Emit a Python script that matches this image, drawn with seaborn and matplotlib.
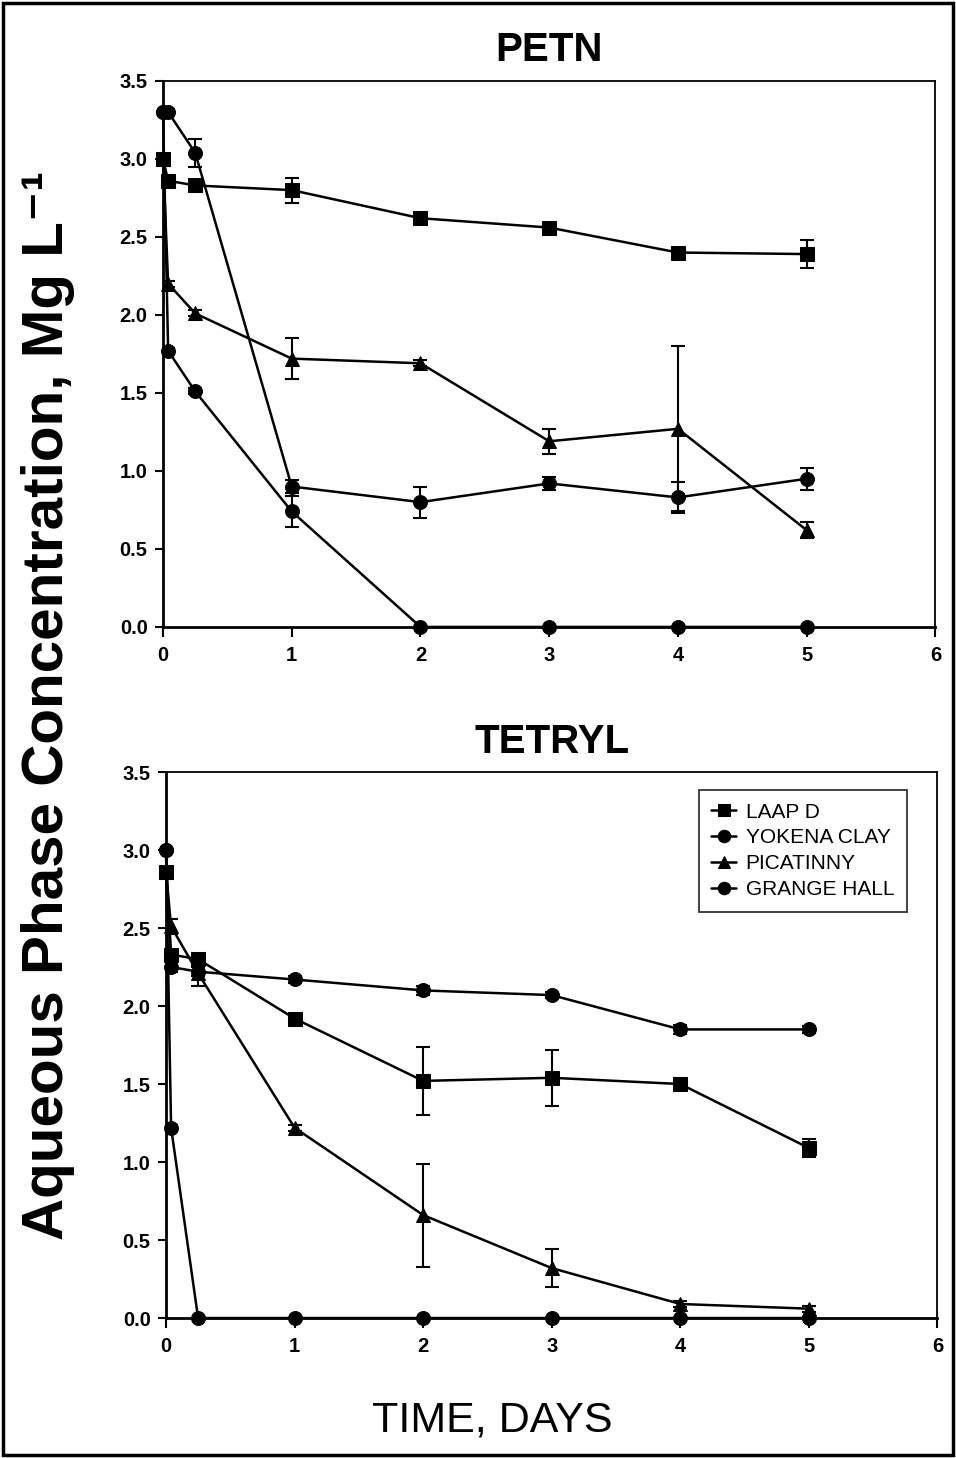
import numpy as np
import pandas as pd
import matplotlib
matplotlib.use("Agg")
import matplotlib.pyplot as plt
import seaborn as sns
from matplotlib.patches import Rectangle
from matplotlib.legend_handler import HandlerLine2D

# Probenahmezeiten in Tagen (0 h, 1 h, 6 h, 1-5 d)
days = [0, 0.04, 0.25, 1, 2, 3, 4, 5]
soils = ["LAAP D", "YOKENA CLAY", "PICATINNY", "GRANGE HALL"]
marker_map = {"LAAP D": "s", "YOKENA CLAY": "o", "PICATINNY": "^", "GRANGE HALL": "o"}

# PETN
petn_laap = [3.00, 2.86, 2.83, 2.80, 2.62, 2.56, 2.40, 2.39]
petn_laap_err = [0, 0.02, 0.02, 0.08, 0.02, 0.02, 0.02, 0.09]
petn_yokena = [3.30, 3.30, 3.04, 0.90, 0.80, 0.92, 0.83, 0.95]
petn_yokena_err = [0, 0.02, 0.09, 0.04, 0.10, 0.04, 0.10, 0.07]
petn_pica = [3.00, 2.20, 2.01, 1.72, 1.69, 1.19, 1.27, 0.62]
petn_pica_err = [0, 0.02, 0.02, 0.13, 0.02, 0.08, 0.53, 0.05]
petn_grange = [3.30, 1.77, 1.51, 0.74, 0.0, 0.0, 0.0, 0.0]
petn_grange_err = [0, 0.02, 0.02, 0.10, 0, 0, 0, 0]

# TETRYL
tet_laap = [2.86, 2.33, 2.30, 1.92, 1.52, 1.54, 1.50, 1.09]
tet_laap_err = [0, 0.03, 0.03, 0.03, 0.22, 0.18, 0.03, 0.06]
tet_yokena = [3.00, 2.25, 2.22, 2.17, 2.10, 2.07, 1.85, 1.85]
tet_yokena_err = [0, 0.03, 0.03, 0.02, 0.03, 0.02, 0.03, 0.02]
tet_pica = [2.86, 2.51, 2.21, 1.22, 0.66, 0.32, 0.09, 0.06]
tet_pica_err = [0, 0.05, 0.08, 0.02, 0.33, 0.12, 0.02, 0.02]
tet_grange = [3.00, 1.22, 0.0, 0.0, 0.0, 0.0, 0.0, 0.0]
tet_grange_err = [0, 0.02, 0, 0, 0, 0, 0, 0]

x_ticks = [0, 1, 2, 3, 4, 5, 6]
y_ticks = [0.0, 0.5, 1.0, 1.5, 2.0, 2.5, 3.0, 3.5]

sns.set_style("ticks", {"text.color": "black", "axes.labelcolor": "black",
                        "xtick.color": "black", "ytick.color": "black",
                        "axes.edgecolor": "black"})
plt.rcParams["font.family"] = ["Liberation Sans", "DejaVu Sans"]


class MarkerLeft(HandlerLine2D):
    # Marker links am Linienstueck, wie im Original
    def get_xdata(self, legend, xdescent, ydescent, width, height, fontsize):
        xdata = np.array([-xdescent, -xdescent + width])
        return xdata, np.array([-xdescent + 2])


def long_frame(values):
    rows = []
    for soil, vals in zip(soils, values):
        for t, v in zip(days, vals):
            rows.append({"days": t, "conc": v, "soil": soil})
    return pd.DataFrame(rows)


def draw_panel(ax, values, errors, title, legend):
    df = long_frame(values)
    sns.lineplot(data=df, x="days", y="conc", hue="soil", style="soil",
                 palette=["black"] * 4, markers=marker_map, dashes=False,
                 sort=False, markersize=10, markeredgecolor="black",
                 linewidth=1.8, ax=ax, legend=legend, clip_on=False, zorder=3)
    for vals, errs in zip(values, errors):
        ax.errorbar(days, vals, yerr=errs, fmt="none", ecolor="black",
                    elinewidth=1.5, capsize=5, capthick=1.5, zorder=3)
    ax.set_xlim(0, 6)
    ax.set_ylim(0, 3.5)
    ax.set_xticks(x_ticks)
    ax.set_xticklabels([str(v) for v in x_ticks], fontsize=14.5, fontweight="bold")
    ax.set_yticks(y_ticks)
    ax.set_yticklabels([f"{v:.1f}" for v in y_ticks], fontsize=14.5, fontweight="bold")
    ax.set_xlabel("")
    ax.set_ylabel("")
    ax.set_title(title, fontsize=29, fontweight="bold", pad=14)
    ax.tick_params(axis="x", direction="out", length=7, width=1.5, pad=7)
    ax.tick_params(axis="y", direction="out", length=6, width=1.5, pad=5)
    for side in ["left", "bottom"]:
        ax.spines[side].set_linewidth(2)
    for side in ["top", "right"]:
        ax.spines[side].set_linewidth(1.3)
        ax.spines[side].set_visible(True)


fig = plt.figure(figsize=(9.56, 14.58), dpi=100)
ax1 = fig.add_axes([0.1705, 0.570, 0.808, 0.3745])
ax2 = fig.add_axes([0.1736, 0.096, 0.807, 0.3745])

draw_panel(ax1, [petn_laap, petn_yokena, petn_pica, petn_grange],
           [petn_laap_err, petn_yokena_err, petn_pica_err, petn_grange_err],
           "PETN", False)
draw_panel(ax2, [tet_laap, tet_yokena, tet_pica, tet_grange],
           [tet_laap_err, tet_yokena_err, tet_pica_err, tet_grange_err],
           "TETRYL", "full")

handles, labels = ax2.get_legend_handles_labels()
leg = ax2.legend(handles, labels, loc="upper right", bbox_to_anchor=(0.96, 0.967),
                 frameon=True, fancybox=False, edgecolor="black", fontsize=15,
                 handlelength=1.2, handletextpad=0.45, borderpad=0.6,
                 borderaxespad=0, labelspacing=0.33,
                 handler_map={h: MarkerLeft() for h in handles})
leg.get_frame().set_linewidth(1.3)
for h in leg.legend_handles:
    h.set_markersize(9)

fig.text(0.05, 0.516, "Aqueous Phase Concentration, Mg L\u207b\u00b9",
         rotation=90, ha="center", va="center", fontsize=42, fontweight="bold")
fig.text(0.515, 0.026, "TIME, DAYS", ha="center", va="center", fontsize=31)

# Rahmen um die ganze Abbildung
fig.patches.append(Rectangle((0.003, 0.002), 0.994, 0.996, transform=fig.transFigure,
                             fill=False, edgecolor="black", linewidth=2.5))

fig.savefig("out.png", dpi=100)
